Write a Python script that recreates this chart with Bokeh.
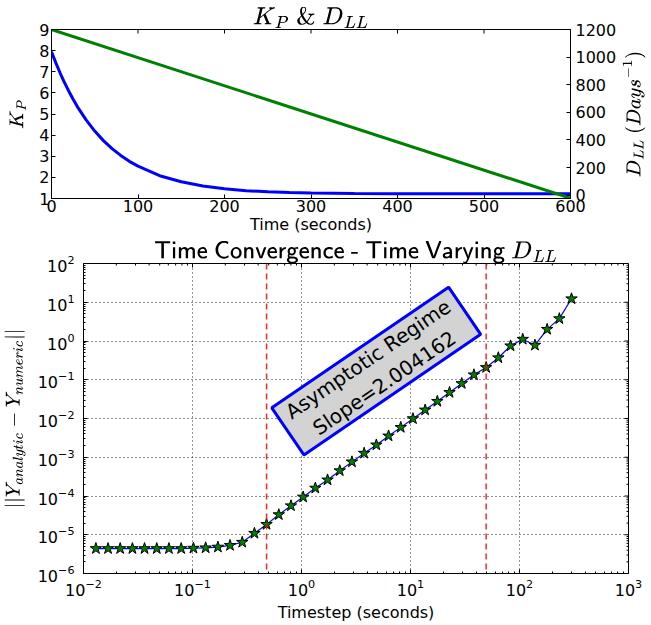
from bokeh.plotting import figure
from bokeh.models import (Range1d, LinearAxis, FixedTicker, Span)
from bokeh.layouts import row
from bokeh.core.properties import value
from bokeh.embed import file_html
from bokeh.resources import INLINE

# ---------------- data: top panel ----------------
time_s = [0, 5, 10, 15, 20, 25, 30, 40, 50, 60, 70, 80, 90, 100, 125, 150,
          175, 200, 225, 250, 275, 300, 350, 400, 450, 500, 550, 600]
kp = [7.95, 7.42, 6.94, 6.49, 6.08, 5.70, 5.34, 4.72, 4.19, 3.74, 3.36, 3.04,
      2.76, 2.53, 2.08, 1.79, 1.59, 1.46, 1.37, 1.32, 1.28, 1.26, 1.24, 1.23,
      1.22, 1.22, 1.22, 1.22]
dll_time = [0, 600]
dll = [1200, -22]
time_ticks = [0, 100, 200, 300, 400, 500, 600]
kp_ticks = [1, 2, 3, 4, 5, 6, 7, 8, 9]
dll_ticks = [0, 200, 400, 600, 800, 1000, 1200]

# ---------------- data: bottom panel ----------------
dt = [0.0130, 0.0168, 0.0217, 0.0281, 0.0363, 0.0470, 0.0608, 0.0787, 0.102,
      0.132, 0.171, 0.221, 0.286, 0.370, 0.478, 0.619, 0.801, 1.036, 1.340,
      1.734, 2.244, 2.903, 3.757, 4.861, 6.290, 8.139, 10.53, 13.63, 17.63,
      22.81, 29.52, 38.20, 49.43, 63.96, 82.76, 107.1, 138.6, 179.3, 232.0, 300.0]
err = [4.4e-6, 4.4e-6, 4.4e-6, 4.4e-6, 4.4e-6, 4.4e-6, 4.4e-6, 4.4e-6, 4.5e-6,
       4.6e-6, 4.8e-6, 5.3e-6, 6.4e-6, 1.09e-5, 1.85e-5, 3.3e-5, 5.6e-5, 9.4e-5,
       1.6e-4, 2.6e-4, 4.5e-4, 7.6e-4, 1.27e-3, 2.08e-3, 3.55e-3, 5.9e-3, 9.9e-3,
       1.66e-2, 2.77e-2, 4.7e-2, 8.0e-2, 0.134, 0.207, 0.37, 0.75, 1.11, 0.78,
       2.0, 3.77, 12.3]
regime_bounds = [0.478, 49.43]
x_decades = [-2, -1, 0, 1, 2, 3]
y_decades = [-6, -5, -4, -3, -2, -1, 0, 1, 2]
annot_text = "Asymptotic Regime\nSlope=2.004162"

FONT = "DejaVu Sans"


def style_axis(ax, standoff, label_standoff=4):
    ax.major_label_text_font = FONT
    ax.major_label_text_font_size = "16px"
    ax.major_label_text_color = "black"
    ax.axis_label_text_font = FONT
    ax.axis_label_text_font_size = "16px"
    ax.axis_label_text_font_style = "normal"
    ax.axis_label_text_color = "black"
    ax.major_label_standoff = standoff
    ax.axis_label_standoff = label_standoff
    ax.major_tick_in = 4
    ax.major_tick_out = 0
    ax.minor_tick_in = 2
    ax.minor_tick_out = 0
    ax.axis_line_color = "black"
    ax.major_tick_line_color = "black"
    ax.minor_tick_line_color = "black"


# ---------------- top figure ----------------
H1 = 237
p1 = figure(width=619, height=H1, x_range=Range1d(0, 600), y_range=Range1d(1, 9),
            output_backend="svg", toolbar_location=None,
            min_border_left=51, min_border_right=48, min_border_top=29,
            min_border_bottom=39)
p1.extra_y_ranges = {"dll": Range1d(-24, 1200)}
p1.outline_line_color = "black"
p1.xgrid.visible = False
p1.ygrid.visible = False

p1.title.text = r"$$K_P \;\&\; D_{LL}$$"
p1.title.align = "center"
p1.title.text_font_size = "20px"
p1.title.text_font_style = "normal"
p1.title.text_color = "black"
p1.title.standoff = 2

p1.line(time_s, kp, line_color="#0000ff", line_width=3)
p1.line(dll_time, dll, line_color="#008000", line_width=3, y_range_name="dll")

p1.xaxis.ticker = FixedTicker(ticks=time_ticks)
p1.xaxis.axis_label = "Time (seconds)"
style_axis(p1.xaxis[0], 1, 0)
p1.yaxis.ticker = FixedTicker(ticks=kp_ticks)
p1.yaxis.axis_label = r"$$K_P$$"
style_axis(p1.yaxis[0], 2, 8)
p1.xaxis.minor_tick_line_color = None
p1.yaxis.minor_tick_line_color = None

rax = LinearAxis(y_range_name="dll", ticker=FixedTicker(ticks=dll_ticks))
style_axis(rax, 5, 4)
rax.minor_tick_line_color = None
p1.add_layout(rax, "right")

# ticks on the top spine (inside)
p1.ray(x=time_ticks, y=[9] * len(time_ticks), length=4, length_units="screen",
       angle=-90, angle_units="deg", line_color="black", line_width=1)

# narrow companion figure carrying the right-hand axis title (reads upward)
p_lab = figure(width=32, height=H1, x_range=Range1d(0, 1), y_range=Range1d(0, 1),
               output_backend="svg", toolbar_location=None,
               min_border_left=26, min_border_right=0, min_border_top=29,
               min_border_bottom=39)
p_lab.outline_line_color = None
p_lab.xaxis.visible = False
p_lab.xgrid.visible = False
p_lab.ygrid.visible = False
lab_ax = p_lab.yaxis[0]
lab_ax.ticker = FixedTicker(ticks=[])
lab_ax.axis_line_color = None
lab_ax.major_tick_line_color = None
lab_ax.minor_tick_line_color = None
lab_ax.major_tick_out = 0
lab_ax.major_label_standoff = 0
lab_ax.axis_label = r"$$D_{LL}\ (Days^{-1})$$"
lab_ax.axis_label_text_font_size = "16px"
lab_ax.axis_label_text_color = "black"
lab_ax.axis_label_standoff = 6

# ---------------- bottom figure ----------------
p2 = figure(width=651, height=387, x_axis_type="log", y_axis_type="log",
            x_range=Range1d(1e-2, 1e3), y_range=Range1d(1e-6, 1e2),
            output_backend="svg", toolbar_location=None,
            min_border_left=83, min_border_right=23, min_border_top=26,
            min_border_bottom=50)
p2.outline_line_color = "black"

p2.title.text = r"$$\textsf{Time Convergence - Time Varying}\ D_{LL}$$"
p2.title.align = "center"
p2.title.text_font_size = "20px"
p2.title.text_font_style = "normal"
p2.title.text_color = "black"
p2.title.standoff = 0

x_major = [10.0 ** k for k in x_decades]
y_major = [10.0 ** k for k in y_decades]
x_minor = [m * 10.0 ** k for k in x_decades[:-1] for m in range(2, 10)]
y_minor = [m * 10.0 ** k for k in y_decades[:-1] for m in range(2, 10)]
xt = FixedTicker(ticks=x_major, minor_ticks=x_minor)
yt = FixedTicker(ticks=y_major, minor_ticks=y_minor)
p2.xaxis.ticker = xt
p2.yaxis.ticker = yt
p2.xaxis.axis_label = "Timestep (seconds)"
p2.yaxis.axis_label = r"$$||Y_{analytic} - Y_{numeric}||$$"
style_axis(p2.xaxis[0], 5, 4)
style_axis(p2.yaxis[0], 9, 9)

for g in (p2.xgrid[0], p2.ygrid[0]):
    g.grid_line_color = "black"
    g.grid_line_alpha = 0.85
    g.grid_line_dash = "1 3"
    g.grid_line_width = 1

# ticks on top and right spines (inside)
p2.ray(x=x_major, y=[1e2] * len(x_major), length=4, length_units="screen",
       angle=-90, angle_units="deg", line_color="black", line_width=1)
p2.ray(x=x_minor, y=[1e2] * len(x_minor), length=2, length_units="screen",
       angle=-90, angle_units="deg", line_color="black", line_width=1)
p2.ray(x=[1e3] * len(y_major), y=y_major, length=4, length_units="screen",
       angle=180, angle_units="deg", line_color="black", line_width=1)
p2.ray(x=[1e3] * len(y_minor), y=y_minor, length=2, length_units="screen",
       angle=180, angle_units="deg", line_color="black", line_width=1)

for loc in regime_bounds:
    p2.add_layout(Span(location=loc, dimension="height", line_color="#ff0000",
                       line_alpha=0.85, line_width=1.5, line_dash="6 4"))

p2.line(dt, err, line_color="#0000ff", line_width=1.2)
p2.scatter(dt, err, marker="star", size=12, fill_color="#008000",
           line_color="black", line_width=1)

p2.rect(x=[4.85], y=[0.1676], width=214, height=57, width_units="screen",
        height_units="screen", angle=34.3, angle_units="deg",
        fill_color="#d3d3d3", line_color="#0000ff", line_width=3)
p2.text(x=[4.85], y=[0.1676], text=[annot_text], angle=34.3, angle_units="deg",
        text_align="center", text_baseline="middle", text_font_size="20px",
        text_font=value(FONT), text_color="black")

open("out.html", "w").write(file_html([row(p1, p_lab), p2], INLINE))
